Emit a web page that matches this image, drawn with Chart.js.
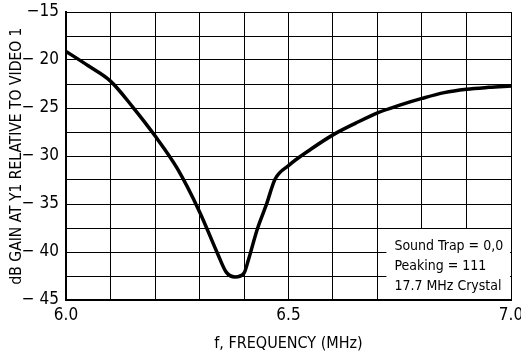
<!DOCTYPE html>
<html>
<head>
<meta charset="utf-8">
<script src="https://cdn.jsdelivr.net/npm/chart.js@4"></script>
<style>
  html, body { margin: 0; padding: 0; background: #fff; }
  #wrap { width: 521px; height: 357px; }
</style>
</head>
<body>
<div id="wrap"><canvas id="myChart" width="521" height="357"></canvas></div>
<script>
// respuesta en frecuencia (MHz) vs ganancia (dB)
const freq = [6.00, 6.05, 6.10, 6.15, 6.20, 6.25, 6.30, 6.34, 6.36, 6.38, 6.40, 6.41, 6.43, 6.45, 6.47, 6.50, 6.55, 6.60, 6.65, 6.70, 6.75, 6.80, 6.85, 6.90, 6.95, 7.00]
const gain = [-19.1, -20.6, -22.2, -24.9, -27.9, -31.3, -35.8, -40.1, -42.1, -42.6, -42.2, -40.8, -37.6, -35.1, -32.4, -31.0, -29.3, -27.8, -26.6, -25.5, -24.7, -24.0, -23.4, -23.05, -22.85, -22.7]

const yTicks = [-15, -20, -25, -30, -35, -40, -45]
const yTickLabels = ['\u221215', '\u2212 20', '\u2212 25', '\u2212 30', '\u2212 35', '\u2212 40', '\u2212 45']
const xTicks = [6.0, 6.5, 7.0]
const xTickLabels = ['6.0', '6.5', '7.0']
const notas = ['Sound Trap = 0,0', 'Peaking = 111', '17.7 MHz Crystal']

const fuente = "'Liberation Sans Narrow', 'DejaVu Sans Condensed', 'Arial Narrow', sans-serif"

// recuadro blanco con las condiciones de la medición
const cuadroNotas = {
    id: 'cuadroNotas',
    beforeDatasetsDraw(chart) {
        const { ctx, scales: { x, y } } = chart
        const x0 = x.getPixelForValue(6.72)
        const x1 = x.getPixelForValue(7.0)
        const y0 = y.getPixelForValue(-37.5) + 1
        const y1 = y.getPixelForValue(-45)
        ctx.save()
        ctx.fillStyle = '#fff'
        ctx.fillRect(x0, y0, x1 - x0 - 1, y1 - y0 - 1)
        ctx.fillStyle = '#000'
        ctx.font = '14px ' + fuente
        ctx.textBaseline = 'alphabetic'
        notas.forEach((t, i) => ctx.fillText(t, x0 + 8, y0 + 21 + i * 20))
        ctx.restore()
    }
}

// ancho y alto fijos de los ejes, sin relleno extra por las etiquetas
const fijarEje = (ancho, alto) => s => {
    if (ancho) s.width = ancho
    if (alto) s.height = alto
    s.paddingLeft = 0
    s.paddingRight = 0
    s.paddingTop = 0
    s.paddingBottom = 0
}

const ctx = document.getElementById('myChart')

new Chart(ctx, {
    type: 'line',
    data: {
        datasets: [{
            data: freq.map((f, i) => ({ x: f, y: gain[i] })),
            borderColor: '#000',
            borderWidth: 3.5,
            pointRadius: 0,
            tension: 0.4,
            cubicInterpolationMode: 'monotone',
            fill: false
        }]
    },
    options: {
        responsive: false,
        animation: false,
        layout: { padding: { top: 12, right: 10, left: 0, bottom: 0 } },
        plugins: { legend: { display: false }, tooltip: { enabled: false } },
        scales: {
            x: {
                type: 'linear',
                min: 6.0, max: 7.0,
                afterFit: fijarEje(0, 57),
                ticks: {
                    stepSize: 0.1,
                    autoSkip: false,
                    maxRotation: 0,
                    color: '#000',
                    padding: 5,
                    font: { family: fuente, size: 17 },
                    callback: v => {
                        const i = xTicks.findIndex(t => Math.abs(t - v) < 1e-6)
                        return i >= 0 ? xTickLabels[i] : ''
                    }
                },
                grid: { color: '#000', lineWidth: 1, drawTicks: false },
                border: { color: '#000', width: 2 },
                title: {
                    display: true,
                    text: 'f, FREQUENCY (MHz)',
                    color: '#000',
                    font: { family: fuente, size: 16 },
                    padding: { top: 4 }
                }
            },
            y: {
                min: -45, max: -15,
                afterFit: fijarEje(66, 0),
                ticks: {
                    stepSize: 2.5,
                    autoSkip: false,
                    color: '#000',
                    padding: 7,
                    font: { family: fuente, size: 17 },
                    callback: v => {
                        const i = yTicks.indexOf(v)
                        return i >= 0 ? yTickLabels[i] : ''
                    }
                },
                grid: { color: '#000', lineWidth: 1, drawTicks: false },
                border: { color: '#000', width: 2 },
                title: {
                    display: true,
                    text: 'dB GAIN AT Y1 RELATIVE TO VIDEO 1',
                    color: '#000',
                    font: { family: fuente, size: 15.5 },
                    padding: { top: 8, bottom: 0 }
                }
            }
        }
    },
    plugins: [cuadroNotas]
})
</script>
</body>
</html>
